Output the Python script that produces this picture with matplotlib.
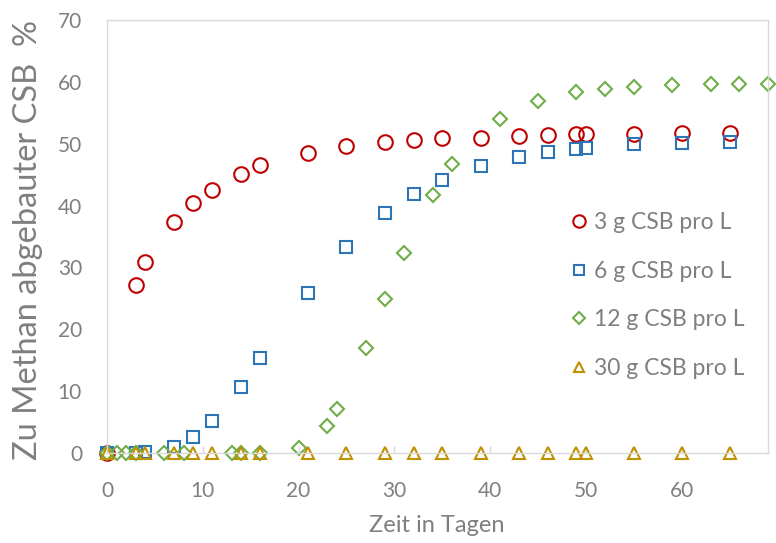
import matplotlib.pyplot as plt

plt.rcParams['font.family'] = ['Lato', 'DejaVu Sans']

# Abbau in % des zugegebenen CSB, je Belastung
t_3g = [0, 3, 4, 7, 9, 11, 14, 16, 21, 25, 29, 32, 35, 39, 43, 46, 49, 50, 55, 60, 65]
csb_3g = [0, 27.1, 30.9, 37.3, 40.4, 42.5, 45.1, 46.5, 48.5, 49.6, 50.2, 50.6, 50.9, 51.0,
          51.2, 51.4, 51.5, 51.5, 51.6, 51.7, 51.7]

t_6g = [0, 3, 4, 7, 9, 11, 14, 16, 21, 25, 29, 32, 35, 39, 43, 46, 49, 50, 55, 60, 65]
csb_6g = [0, 0, 0.2, 1.0, 2.6, 5.2, 10.7, 15.3, 25.8, 33.3, 38.8, 41.8, 44.1, 46.4, 47.8,
          48.6, 49.1, 49.3, 49.9, 50.1, 50.2]

t_12g = [0, 1, 2, 3, 6, 8, 13, 14, 16, 20, 23, 24, 27, 29, 31, 34, 36, 41, 45, 49, 52, 55,
         59, 63, 66, 69]
csb_12g = [0, 0, 0, 0, 0, 0, 0, 0, 0, 0.8, 4.4, 7.1, 17.0, 24.9, 32.4, 41.7, 46.8, 54.0,
           56.9, 58.4, 58.9, 59.2, 59.5, 59.6, 59.6, 59.6]

t_30g = [0, 3, 4, 7, 9, 11, 14, 16, 21, 25, 29, 32, 35, 39, 43, 46, 49, 50, 55, 60, 65]
csb_30g = [0] * len(t_30g)

labels = ['3 g CSB pro L', '6 g CSB pro L', '12 g CSB pro L', '30 g CSB pro L']

grey = '#7f7f7f'
edge = '#d9d9d9'

fig = plt.figure(figsize=(7.76, 5.43), dpi=100)
ax = fig.add_axes([107 / 776, 1 - 453 / 543, 661 / 776, 433 / 543])

ax.plot(t_3g, csb_3g, 'o', ls='none', ms=10.5, mfc='none', mec='#c00000', mew=1.5,
        label=labels[0], clip_on=False)
ax.plot(t_6g, csb_6g, 's', ls='none', ms=9.3, mfc='none', mec='#2e75b6', mew=1.5,
        label=labels[1], clip_on=False)
ax.plot(t_12g, csb_12g, 'D', ls='none', ms=7.0, mfc='none', mec='#70ad47', mew=1.5,
        label=labels[2], clip_on=False)
ax.plot(t_30g, csb_30g, '^', ls='none', ms=9.3, mfc='none', mec='#bf9000', mew=1.5,
        label=labels[3], clip_on=False)

ax.set_xlim(0, 69)
ax.set_ylim(0, 70)
ax.set_xticks(range(0, 61, 10))
ax.set_yticks(range(0, 71, 10))

for s in ax.spines.values():
    s.set_color(edge)
    s.set_linewidth(1.0)

ax.tick_params(axis='x', direction='in', length=5, width=1, color=edge, pad=20,
               labelsize=15, labelcolor=grey)
ax.tick_params(axis='y', length=0, pad=18, labelsize=15, labelcolor=grey)

fig.text(28 / 776, 1 - 240 / 543, 'Zu Methan abgebauter CSB  %', rotation=90,
         ha='center', va='center', fontsize=23.5, color=grey)
fig.text(437 / 776, 1 - 532 / 543, 'Zeit in Tagen', ha='center', va='baseline',
         fontsize=17, color=grey)

ax.legend(loc='upper left', bbox_to_anchor=(561 / 776, 1 - 201 / 543),
          bbox_transform=fig.transFigure, frameon=False, fontsize=16.5,
          labelcolor=grey, handlelength=0.6, handletextpad=0.35, labelspacing=1.2,
          markerscale=0.85, borderpad=0)

fig.savefig('out.png', dpi=100, facecolor='white')
